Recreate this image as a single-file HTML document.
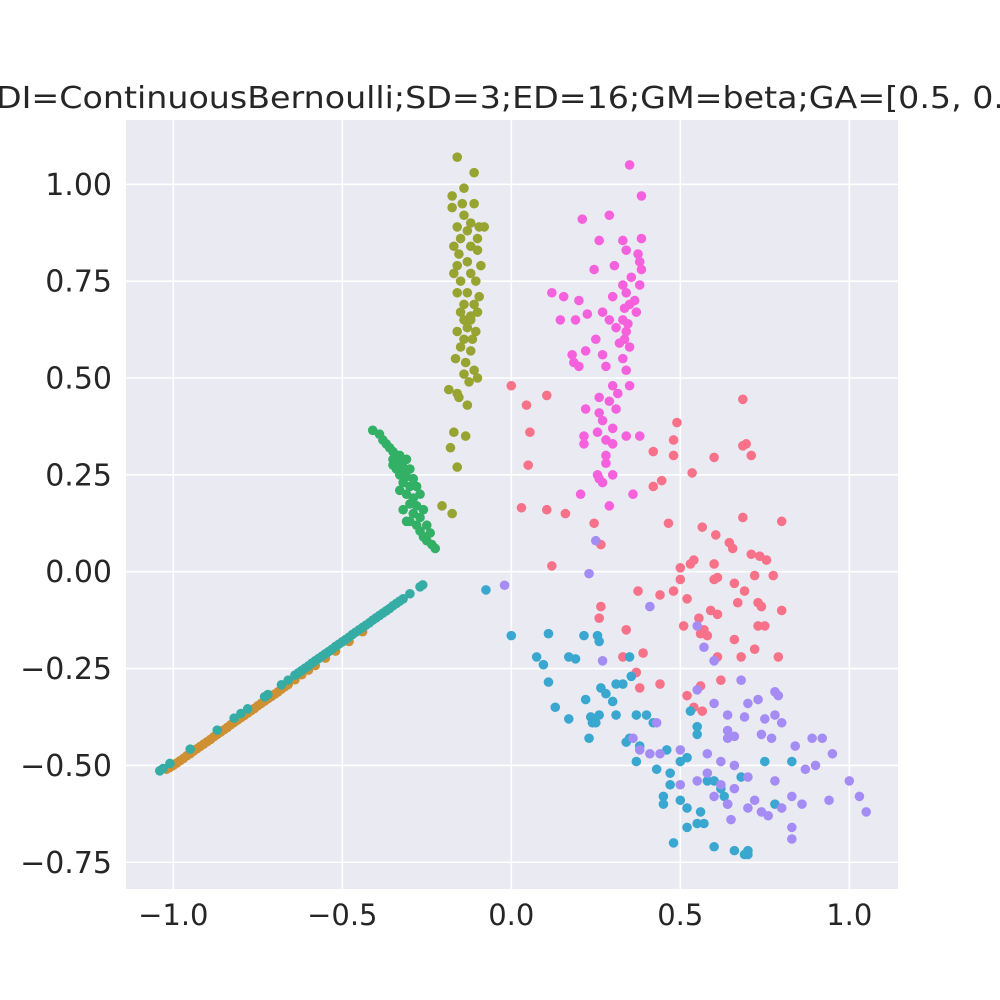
<!DOCTYPE html>
<html><head><meta charset="utf-8"><style>
html,body{margin:0;padding:0;background:#fff;}
svg{display:block;font-family:"DejaVu Sans","Liberation Sans",sans-serif;}
</style></head><body>
<svg id="chart" width="1000" height="1000" viewBox="0 0 1000 1000">
<rect x="0" y="0" width="1000" height="1000" fill="#ffffff"/>
<text x="-4" y="108" font-size="30" fill="#262626" textLength="1008" lengthAdjust="spacingAndGlyphs">DI=ContinuousBernoulli;SD=3;ED=16;GM=beta;GA=[0.5, 0.</text>
<rect x="126" y="120" width="772" height="769" fill="#eaeaf2"/>
<g id="grid"></g>
<g id="ticks"></g>
<g id="points"></g>
</svg>
<script>
const xTicks=[-1.0,-0.5,0.0,0.5,1.0];
const xTickLabels=["\u22121.0","\u22120.5","0.0","0.5","1.0"];
const yTicks=[1.0,0.75,0.5,0.25,0.0,-0.25,-0.5,-0.75];
const yTickLabels=["1.00","0.75","0.50","0.25","0.00","\u22120.25","\u22120.50","\u22120.75"];

const seriesNames=["red","orange","olive","green","teal","blue","purple","magenta"];
const seriesColors=["#f77189","#ce9032","#97a431","#32b166","#36ada4","#39a7d0","#a48cf4","#f561dd"];

const redPts=[[0.0,0.48],[0.045,0.43],[0.105,0.455],[0.055,0.36],[0.49,0.385],[0.685,0.445],[0.05,0.275],[0.03,0.165],[0.105,0.16],[0.16,0.15],[0.12,0.015],[0.245,0.125],[0.265,0.07],[0.48,0.34],[0.42,0.31],[0.48,0.3],[0.445,0.235],[0.42,0.22],[0.535,0.255],[0.6,0.295],[0.695,0.33],[0.685,0.325],[0.71,0.3],[0.465,0.125],[0.565,0.115],[0.605,0.095],[0.685,0.14],[0.8,0.13],[0.645,0.075],[0.655,0.06],[0.54,0.03],[0.53,0.02],[0.5,0.01],[0.6,0.02],[0.735,0.04],[0.71,0.045],[0.755,0.03],[0.775,-0.01],[0.72,-0.01],[0.61,-0.015],[0.5,-0.02],[0.48,-0.05],[0.44,-0.06],[0.375,-0.05],[0.52,-0.07],[0.6,-0.02],[0.66,-0.03],[0.69,-0.05],[0.67,-0.08],[0.73,-0.08],[0.74,-0.09],[0.8,-0.1],[0.59,-0.1],[0.61,-0.11],[0.555,-0.12],[0.265,-0.09],[0.26,-0.12],[0.34,-0.15],[0.51,-0.14],[0.57,-0.15],[0.58,-0.165],[0.56,-0.16],[0.66,-0.175],[0.73,-0.14],[0.75,-0.14],[0.72,-0.2],[0.79,-0.22],[0.61,-0.22],[0.68,-0.22],[0.39,-0.21],[0.33,-0.22],[0.37,-0.26],[0.44,-0.29],[0.56,-0.295],[0.62,-0.28],[0.52,-0.32],[0.38,-0.3],[0.54,-0.35],[0.565,-0.36]];
const orangePts=[[-1.02,-0.51],[-1.01,-0.505],[-1.0,-0.5],[-0.99,-0.494],[-0.98,-0.488],[-0.97,-0.482],[-0.96,-0.475],[-0.95,-0.47],[-0.94,-0.463],[-0.93,-0.457],[-0.92,-0.451],[-0.91,-0.445],[-0.9,-0.439],[-0.89,-0.433],[-0.88,-0.426],[-0.87,-0.42],[-0.86,-0.414],[-0.85,-0.408],[-0.84,-0.402],[-0.83,-0.395],[-0.82,-0.389],[-0.81,-0.383],[-0.8,-0.377],[-0.79,-0.371],[-0.78,-0.365],[-0.77,-0.359],[-0.76,-0.353],[-0.75,-0.346],[-0.74,-0.34],[-0.73,-0.334],[-0.72,-0.328],[-0.71,-0.322],[-0.7,-0.316],[-0.69,-0.31],[-0.68,-0.303],[-0.67,-0.297],[-0.66,-0.291],[-0.64,-0.279],[-0.62,-0.266],[-0.6,-0.254],[-0.58,-0.242],[-0.55,-0.223],[-0.52,-0.205],[-0.48,-0.18],[-0.44,-0.155]];
const olivePts=[[-0.16,1.07],[-0.11,1.03],[-0.175,0.97],[-0.14,0.99],[-0.175,0.94],[-0.145,0.95],[-0.11,0.95],[-0.14,0.92],[-0.12,0.9],[-0.16,0.89],[-0.095,0.89],[-0.08,0.89],[-0.13,0.88],[-0.1,0.86],[-0.15,0.86],[-0.12,0.84],[-0.17,0.84],[-0.155,0.82],[-0.1,0.83],[-0.13,0.8],[-0.16,0.79],[-0.09,0.79],[-0.17,0.77],[-0.12,0.77],[-0.15,0.75],[-0.105,0.75],[-0.16,0.72],[-0.13,0.72],[-0.095,0.71],[-0.14,0.69],[-0.11,0.69],[-0.15,0.67],[-0.12,0.66],[-0.1,0.67],[-0.14,0.65],[-0.13,0.63],[-0.105,0.62],[-0.16,0.62],[-0.14,0.6],[-0.115,0.6],[-0.15,0.58],[-0.12,0.57],[-0.165,0.55],[-0.135,0.54],[-0.11,0.52],[-0.14,0.51],[-0.125,0.49],[-0.185,0.47],[-0.16,0.46],[-0.155,0.45],[-0.1,0.5],[-0.13,0.43],[-0.17,0.36],[-0.135,0.35],[-0.18,0.32],[-0.16,0.27],[-0.205,0.17],[-0.175,0.15],[-0.12,0.65]];
const greenPts=[[-0.41,0.365],[-0.39,0.355],[-0.38,0.34],[-0.37,0.33],[-0.36,0.32],[-0.35,0.31],[-0.34,0.3],[-0.33,0.3],[-0.35,0.29],[-0.33,0.285],[-0.31,0.29],[-0.32,0.27],[-0.34,0.265],[-0.3,0.265],[-0.33,0.25],[-0.31,0.245],[-0.29,0.24],[-0.32,0.23],[-0.3,0.22],[-0.28,0.22],[-0.33,0.21],[-0.31,0.2],[-0.29,0.19],[-0.27,0.2],[-0.3,0.175],[-0.28,0.17],[-0.32,0.16],[-0.26,0.16],[-0.29,0.15],[-0.27,0.14],[-0.3,0.13],[-0.28,0.12],[-0.25,0.12],[-0.27,0.105],[-0.26,0.09],[-0.24,0.1],[-0.25,0.08],[-0.235,0.07],[-0.225,0.06],[-0.31,0.26],[-0.35,0.275],[-0.31,0.13]];
const tealPts=[[-1.04,-0.514],[-1.03,-0.508],[-1.01,-0.495],[-0.95,-0.458],[-0.87,-0.409],[-0.82,-0.378],[-0.8,-0.366],[-0.78,-0.354],[-0.73,-0.323],[-0.72,-0.317],[-0.68,-0.292],[-0.66,-0.28],[-0.64,-0.267],[-0.63,-0.261],[-0.62,-0.255],[-0.61,-0.249],[-0.6,-0.243],[-0.59,-0.236],[-0.58,-0.23],[-0.57,-0.224],[-0.56,-0.218],[-0.55,-0.212],[-0.54,-0.206],[-0.53,-0.2],[-0.52,-0.193],[-0.51,-0.187],[-0.5,-0.181],[-0.49,-0.175],[-0.48,-0.169],[-0.47,-0.162],[-0.46,-0.156],[-0.45,-0.15],[-0.44,-0.144],[-0.43,-0.138],[-0.42,-0.132],[-0.41,-0.125],[-0.4,-0.119],[-0.39,-0.113],[-0.38,-0.107],[-0.37,-0.101],[-0.36,-0.095],[-0.35,-0.088],[-0.34,-0.082],[-0.33,-0.076],[-0.32,-0.07],[-0.3,-0.057],[-0.27,-0.039],[-0.262,-0.034]];
const bluePts=[[-0.075,-0.047],[0.0,-0.165],[0.11,-0.16],[0.075,-0.22],[0.095,-0.24],[0.11,-0.285],[0.13,-0.35],[0.17,-0.22],[0.17,-0.38],[0.19,-0.225],[0.215,-0.165],[0.255,-0.165],[0.26,-0.18],[0.22,-0.33],[0.235,-0.375],[0.24,-0.39],[0.23,-0.43],[0.25,-0.39],[0.26,-0.37],[0.265,-0.3],[0.28,-0.315],[0.3,-0.335],[0.31,-0.29],[0.33,-0.29],[0.31,-0.37],[0.34,-0.44],[0.35,-0.43],[0.35,-0.22],[0.355,-0.27],[0.37,-0.37],[0.38,-0.45],[0.37,-0.49],[0.4,-0.37],[0.42,-0.39],[0.43,-0.51],[0.46,-0.46],[0.47,-0.52],[0.47,-0.55],[0.45,-0.58],[0.45,-0.6],[0.5,-0.49],[0.52,-0.48],[0.55,-0.42],[0.55,-0.4],[0.5,-0.59],[0.52,-0.61],[0.52,-0.66],[0.56,-0.62],[0.57,-0.65],[0.55,-0.65],[0.58,-0.54],[0.6,-0.54],[0.6,-0.71],[0.62,-0.56],[0.63,-0.58],[0.64,-0.6],[0.68,-0.53],[0.7,-0.72],[0.7,-0.73],[0.69,-0.73],[0.75,-0.49],[0.78,-0.6],[0.66,-0.72],[0.83,-0.49],[0.53,-0.36],[0.48,-0.7]];
const purplePts=[[0.25,0.08],[0.23,-0.005],[-0.02,-0.035],[0.27,-0.23],[0.55,-0.14],[0.57,-0.195],[0.41,-0.09],[0.55,-0.305],[0.6,-0.34],[0.68,-0.28],[0.7,-0.34],[0.73,-0.33],[0.78,-0.31],[0.79,-0.32],[0.64,-0.37],[0.69,-0.375],[0.75,-0.38],[0.8,-0.39],[0.64,-0.41],[0.66,-0.425],[0.77,-0.43],[0.74,-0.42],[0.84,-0.45],[0.89,-0.43],[0.92,-0.43],[0.95,-0.47],[0.36,-0.43],[0.38,-0.46],[0.41,-0.47],[0.44,-0.47],[0.5,-0.46],[0.58,-0.47],[0.62,-0.49],[0.66,-0.5],[0.7,-0.53],[0.78,-0.54],[0.87,-0.51],[0.9,-0.5],[0.83,-0.58],[0.86,-0.6],[0.94,-0.59],[1.0,-0.54],[1.03,-0.58],[1.05,-0.62],[0.5,-0.55],[0.55,-0.54],[0.58,-0.52],[0.62,-0.55],[0.66,-0.56],[0.6,-0.58],[0.64,-0.6],[0.7,-0.61],[0.72,-0.59],[0.74,-0.62],[0.76,-0.63],[0.8,-0.61],[0.83,-0.66],[0.83,-0.69],[0.65,-0.64],[0.43,-0.39],[0.6,-0.23],[0.64,-0.43],[0.78,-0.37]];
const magentaPts=[[0.35,1.05],[0.385,0.97],[0.29,0.92],[0.21,0.91],[0.385,0.86],[0.26,0.855],[0.33,0.855],[0.34,0.83],[0.375,0.82],[0.38,0.8],[0.245,0.78],[0.305,0.79],[0.385,0.78],[0.355,0.76],[0.33,0.74],[0.34,0.72],[0.38,0.74],[0.365,0.7],[0.35,0.69],[0.335,0.68],[0.3,0.71],[0.12,0.72],[0.155,0.71],[0.2,0.7],[0.37,0.67],[0.225,0.665],[0.27,0.67],[0.145,0.65],[0.19,0.65],[0.33,0.65],[0.345,0.64],[0.34,0.62],[0.29,0.65],[0.31,0.63],[0.25,0.6],[0.335,0.6],[0.35,0.58],[0.32,0.59],[0.22,0.57],[0.27,0.56],[0.18,0.56],[0.33,0.55],[0.185,0.54],[0.2,0.53],[0.28,0.53],[0.34,0.52],[0.35,0.48],[0.3,0.48],[0.315,0.46],[0.26,0.45],[0.29,0.44],[0.22,0.42],[0.26,0.41],[0.31,0.42],[0.27,0.39],[0.3,0.37],[0.255,0.36],[0.215,0.35],[0.34,0.35],[0.28,0.34],[0.215,0.33],[0.3,0.33],[0.38,0.35],[0.28,0.3],[0.255,0.25],[0.27,0.23],[0.3,0.25],[0.26,0.24],[0.205,0.2],[0.36,0.2],[0.29,0.17],[0.28,0.28]];

const allSeries=[redPts,orangePts,olivePts,greenPts,tealPts,bluePts,purplePts,magentaPts];

const NS="http://www.w3.org/2000/svg";
function sx(v){return 511.3+v*338;}
function sy(v){return 571.7-v*387.4;}

const grid=document.getElementById('grid');
const ticks=document.getElementById('ticks');
xTicks.forEach((t,i)=>{
  const l=document.createElementNS(NS,'line');
  l.setAttribute('x1',sx(t));l.setAttribute('x2',sx(t));
  l.setAttribute('y1',120);l.setAttribute('y2',889);
  l.setAttribute('stroke','#ffffff');l.setAttribute('stroke-width','1.6');
  
  
  grid.appendChild(l);
  const tx=document.createElementNS(NS,'text');
  tx.setAttribute('x',sx(t));tx.setAttribute('y',925);
  tx.setAttribute('text-anchor','middle');tx.setAttribute('font-size','29');tx.setAttribute('fill','#262626');
  tx.textContent=xTickLabels[i];
  
  
  ticks.appendChild(tx);
});
yTicks.forEach((t,i)=>{
  const l=document.createElementNS(NS,'line');
  l.setAttribute('x1',126);l.setAttribute('x2',898);
  l.setAttribute('y1',sy(t));l.setAttribute('y2',sy(t));
  l.setAttribute('stroke','#ffffff');l.setAttribute('stroke-width','1.6');
  
  
  grid.appendChild(l);
  const tx=document.createElementNS(NS,'text');
  tx.setAttribute('x',112);tx.setAttribute('y',sy(t)+10.5);
  tx.setAttribute('text-anchor','end');tx.setAttribute('font-size','30');tx.setAttribute('fill','#262626');
  tx.textContent=yTickLabels[i];
  
  
  ticks.appendChild(tx);
});
const pts=document.getElementById('points');
allSeries.forEach((s,si)=>{
  const g=document.createElementNS(NS,'g');
  g.setAttribute('fill',seriesColors[si]);
  
  
  s.forEach(p=>{
    const c=document.createElementNS(NS,'circle');
    c.setAttribute('cx',sx(p[0]));c.setAttribute('cy',sy(p[1]));c.setAttribute('r',4.8);
    
    
    g.appendChild(c);
  });
  pts.appendChild(g);
});
</script>
</body></html>
